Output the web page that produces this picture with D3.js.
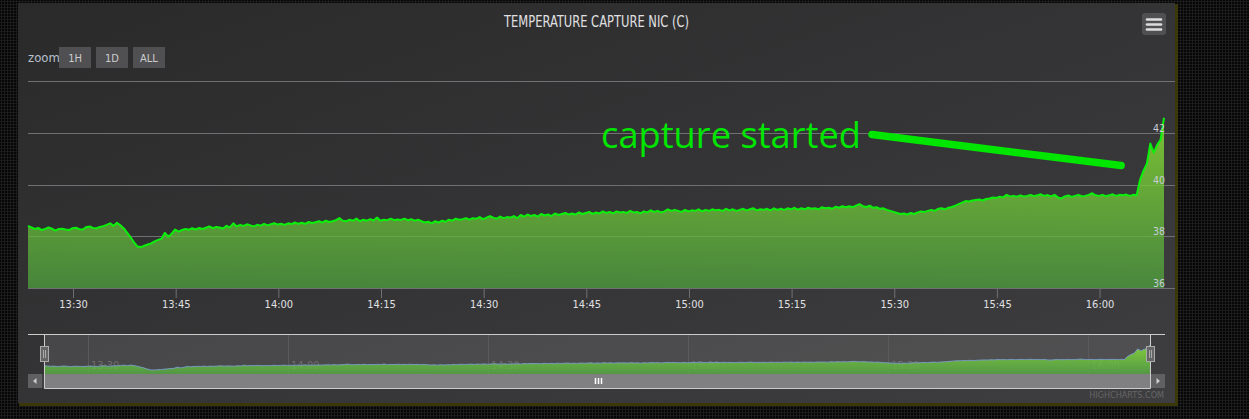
<!DOCTYPE html>
<html lang="en">
<head>
    <meta charset="UTF-8">
    <title>Temperature Capture NIC (C)</title>
    <script src="https://d3js.org/d3.v7.min.js"></script>
    <style>
        body {
            margin: 0;
            overflow: hidden;
            background-color: #060606;
            background-image: radial-gradient(circle, #1f1f1f 0.9px, transparent 1.3px);
            background-size: 3px 3px;
        }
        svg { display: block; }
    </style>
</head>
<body>
    <svg width="1249" height="419"></svg>
    <script>
        // one reading every 30 s, the first at 13:23:25
        const startTime = "13:23:25";
        const stepMinutes = 0.5;
        const temps = [
            38.42, 38.36, 38.30, 38.34, 38.26, 38.30, 38.36, 38.31, 38.24, 38.30,
            38.31, 38.28, 38.26, 38.33, 38.35, 38.29, 38.28, 38.37, 38.40, 38.34,
            38.33, 38.38, 38.41, 38.46, 38.52, 38.42, 38.54, 38.44, 38.32, 38.15,
            37.98, 37.78, 37.62, 37.60, 37.65, 37.70, 37.74, 37.82, 37.88, 37.92,
            38.15, 38.00, 38.12, 38.28, 38.20, 38.26, 38.30, 38.27, 38.33, 38.28,
            38.34, 38.30, 38.35, 38.40, 38.33, 38.38, 38.36, 38.32, 38.42, 38.36,
            38.52, 38.40, 38.46, 38.42, 38.48, 38.44, 38.40, 38.46, 38.43, 38.50,
            38.44, 38.48, 38.52, 38.47, 38.50, 38.46, 38.52, 38.49, 38.55, 38.50,
            38.54, 38.50, 38.57, 38.53, 38.56, 38.60, 38.55, 38.62, 38.57, 38.60,
            38.64, 38.72, 38.62, 38.60, 38.66, 38.62, 38.70, 38.60, 38.66, 38.62,
            38.68, 38.63, 38.74, 38.62, 38.66, 38.64, 38.70, 38.64, 38.67, 38.65,
            38.70, 38.64, 38.68, 38.62, 38.66, 38.60, 38.55, 38.58, 38.52, 38.60,
            38.55, 38.62, 38.58, 38.66, 38.62, 38.70, 38.66, 38.68, 38.72, 38.66,
            38.72, 38.70, 38.76, 38.68, 38.74, 38.80, 38.74, 38.70, 38.78, 38.72,
            38.76, 38.74, 38.80, 38.72, 38.84, 38.78, 38.86, 38.80, 38.84, 38.78,
            38.88, 38.82, 38.86, 38.80, 38.90, 38.84, 38.88, 38.92, 38.86, 38.90,
            38.86, 38.94, 38.88, 38.92, 38.96, 38.88, 38.94, 38.90, 38.98, 38.92,
            38.96, 38.90, 38.98, 38.94, 38.96, 38.92, 39.00, 38.94, 38.96, 38.90,
            38.98, 38.94, 39.02, 38.96, 39.00, 38.94, 38.98, 39.06, 39.00, 39.04,
            39.00, 38.96, 39.04, 38.98, 39.02, 39.00, 39.06, 38.98, 39.04, 39.00,
            39.06, 39.02, 39.04, 39.00, 39.08, 39.02, 39.06, 39.00, 39.04, 39.08,
            39.02, 39.06, 39.10, 39.02, 39.06, 39.04, 39.08, 39.02, 39.10, 39.04,
            39.08, 39.04, 39.10, 39.06, 39.12, 39.05, 39.10, 39.06, 39.12, 39.08,
            39.10, 39.06, 39.14, 39.10, 39.12, 39.08, 39.16, 39.12, 39.18, 39.14,
            39.18, 39.14, 39.20, 39.26, 39.18, 39.15, 39.20, 39.12, 39.14, 39.08,
            39.10, 39.04, 39.00, 38.96, 38.92, 38.88, 38.90, 38.86, 38.92, 38.88,
            38.94, 38.98, 38.96, 39.00, 39.04, 39.00, 39.08, 39.10, 39.06, 39.12,
            39.15, 39.20, 39.26, 39.32, 39.38, 39.36, 39.40, 39.42, 39.44, 39.40,
            39.46, 39.48, 39.52, 39.50, 39.55, 39.52, 39.62, 39.56, 39.58, 39.55,
            39.60, 39.56, 39.58, 39.62, 39.57, 39.60, 39.64, 39.58, 39.61, 39.56,
            39.62, 39.52, 39.48, 39.56, 39.60, 39.54, 39.58, 39.62, 39.56, 39.58,
            39.62, 39.68, 39.60, 39.58, 39.62, 39.57, 39.60, 39.64, 39.58, 39.62,
            39.60, 39.63, 39.58, 39.62, 39.60, 40.20, 40.55, 40.82, 41.60, 41.25,
            41.55, 41.75, 42.60
        ];

        const yTicks = [36, 38, 40, 42, 44];
        const yLabels = [36, 38, 40, 42];     // top tick has no label
        const navYDomain = [36.84, 44.45];

        const chartTitle = "TEMPERATURE CAPTURE NIC (C)";
        const zoomLabel = "zoom";
        const zoomButtons = ["1H", "1D", "ALL"];
        const credits = "HIGHCHARTS.COM";

        // hand-drawn note, placed in data units
        const noteText = "capture started";
        const noteAt = {time: "14:47:09", value: 41.43};
        const noteStroke = [{time: "15:26:45", value: 41.95}, {time: "16:03:09", value: 40.75}];

        const parseTime = d3.timeParse("%H:%M:%S");
        const t0 = parseTime(startTime);
        const data = temps.map((v, i) => ({t: d3.timeSecond.offset(t0, i * stepMinutes * 60), v: v}));

        const svg = d3.select("svg");
        const font = "'DejaVu Sans Condensed', 'Liberation Sans Narrow', 'DejaVu Sans', sans-serif";

        const panel = {x: 18, y: 3, w: 1157, h: 400};
        const plot = {left: 28, right: 1175, dataRight: 1164, top: 81.5, bottom: 288.5};
        const nav = {left: 44, right: 1151, outerLeft: 28, outerRight: 1165, top: 334, bottom: 374, sbBottom: 388};

        const defs = svg.append("defs");
        const bg = defs.append("linearGradient").attr("id", "panelBg")
            .attr("x1", 0).attr("y1", 0).attr("x2", 1).attr("y2", 1);
        bg.append("stop").attr("offset", 0).attr("stop-color", "#2a2a2b");
        bg.append("stop").attr("offset", 1).attr("stop-color", "#3e3e40");

        const areaGrad = defs.append("linearGradient").attr("id", "areaFill")
            .attr("gradientUnits", "userSpaceOnUse")
            .attr("x1", 0).attr("x2", 0).attr("y1", plot.top).attr("y2", plot.bottom);
        areaGrad.append("stop").attr("offset", 0).attr("stop-color", "#a0ff30");
        areaGrad.append("stop").attr("offset", 1).attr("stop-color", "#4ea03e");

        const navGrad = defs.append("linearGradient").attr("id", "navFill")
            .attr("gradientUnits", "userSpaceOnUse")
            .attr("x1", 0).attr("x2", 0).attr("y1", nav.top).attr("y2", nav.bottom);
        navGrad.append("stop").attr("offset", 0).attr("stop-color", "#a0ff30");
        navGrad.append("stop").attr("offset", 1).attr("stop-color", "#55a845");

        // panel with its olive edge
        svg.append("rect")
            .attr("x", panel.x + 1).attr("y", panel.y + 1)
            .attr("width", panel.w + 2).attr("height", panel.h + 2)
            .attr("fill", "#3a3808");
        svg.append("rect")
            .attr("x", panel.x).attr("y", panel.y)
            .attr("width", panel.w).attr("height", panel.h)
            .attr("fill", "url(#panelBg)");

        // title
        svg.append("text")
            .attr("x", panel.x + panel.w / 2).attr("y", 27)
            .attr("text-anchor", "middle")
            .attr("font-family", font).attr("font-size", 16)
            .attr("textLength", 185).attr("lengthAdjust", "spacingAndGlyphs")
            .attr("fill", "#E0E0E3")
            .text(chartTitle);

        // context menu button
        const menu = svg.append("g").attr("transform", "translate(1142,13)");
        menu.append("rect").attr("width", 24).attr("height", 22).attr("rx", 3).attr("fill", "#505053");
        [6.5, 11.5, 16.5].forEach(function(yy) {
            menu.append("line")
                .attr("x1", 5).attr("x2", 19).attr("y1", yy).attr("y2", yy)
                .attr("stroke", "#DDDDDD").attr("stroke-width", 2.6).attr("stroke-linecap", "round");
        });

        // range selector
        svg.append("text")
            .attr("x", 28).attr("y", 62)
            .attr("font-family", font).attr("font-size", 13)
            .attr("fill", "#b8c0cc")
            .text(zoomLabel);
        const btn = svg.selectAll(".zbtn").data(zoomButtons).enter().append("g")
            .attr("class", "zbtn")
            .attr("transform", (d, i) => `translate(${59 + i * 37},47)`);
        btn.append("rect").attr("width", 32).attr("height", 21).attr("fill", "#505053");
        btn.append("text")
            .attr("x", 16).attr("y", 15)
            .attr("text-anchor", "middle")
            .attr("font-family", font).attr("font-size", 11)
            .attr("fill", "#CCCCCC")
            .text(d => d);

        // scales
        const x = d3.scaleTime().domain(d3.extent(data, d => d.t)).range([plot.left, plot.dataRight]);
        const y = d3.scaleLinear().domain([yTicks[0], yTicks[yTicks.length - 1]]).range([plot.bottom, plot.top]);

        // grid
        svg.append("g").selectAll("line").data(yTicks).enter().append("line")
            .attr("x1", plot.left).attr("x2", plot.right)
            .attr("y1", d => Math.floor(y(d)) + 0.5).attr("y2", d => Math.floor(y(d)) + 0.5)
            .attr("stroke", "#707073");

        // series
        const area = d3.area().x(d => x(d.t)).y0(plot.bottom).y1(d => y(d.v));
        const line = d3.line().x(d => x(d.t)).y(d => y(d.v));
        svg.append("path").datum(data)
            .attr("d", area)
            .attr("fill", "url(#areaFill)").attr("fill-opacity", 0.75);
        svg.append("path").datum(data)
            .attr("d", line)
            .attr("fill", "none").attr("stroke", "#0bf00b").attr("stroke-width", 2)
            .attr("stroke-linejoin", "round");

        // y labels, inside on the right
        svg.append("g").selectAll("text").data(yLabels).enter().append("text")
            .attr("x", 1165).attr("y", d => y(d) - 1.5)
            .attr("text-anchor", "end")
            .attr("font-family", font).attr("font-size", 10.5)
            .attr("fill", "#c8ccd6")
            .text(d => d);

        // x axis
        svg.append("line")
            .attr("x1", plot.left).attr("x2", plot.right)
            .attr("y1", Math.floor(plot.bottom) + 0.5).attr("y2", Math.floor(plot.bottom) + 0.5)
            .attr("stroke", "#707073");
        const xAxis = svg.append("g")
            .attr("transform", `translate(0,${Math.floor(plot.bottom)})`)
            .call(d3.axisBottom(x)
                .ticks(d3.timeMinute.every(15))
                .tickFormat(d3.timeFormat("%H:%M"))
                .tickSize(10).tickPadding(2));
        xAxis.select(".domain").remove();
        xAxis.selectAll(".tick line").attr("stroke", "#707073");
        xAxis.selectAll(".tick text")
            .attr("font-family", font).attr("font-size", 11)
            .attr("fill", "#E0E0E3");

        // annotation
        svg.append("text")
            .attr("x", x(parseTime(noteAt.time))).attr("y", y(noteAt.value))
            .attr("font-family", "'Open Sans', 'DejaVu Sans', sans-serif").attr("font-size", 36)
            .attr("textLength", 260).attr("lengthAdjust", "spacingAndGlyphs")
            .attr("fill", "#00e600")
            .text(noteText);
        svg.append("path")
            .datum(noteStroke)
            .attr("d", d3.line().x(d => x(parseTime(d.time))).y(d => y(d.value)))
            .attr("stroke", "#00e600").attr("stroke-width", 7.5).attr("stroke-linecap", "round");

        // navigator
        const navX = d3.scaleTime().domain(x.domain()).range([nav.left, nav.right]);
        const navY = d3.scaleLinear().domain(navYDomain).range([nav.bottom, nav.top]);

        svg.append("rect")
            .attr("x", nav.left).attr("y", nav.top)
            .attr("width", nav.right - nav.left).attr("height", nav.bottom - nav.top)
            .attr("fill", "rgba(255,255,255,0.1)");

        const navTicks = navX.ticks(d3.timeMinute.every(30));
        svg.append("g").selectAll("line").data(navTicks).enter().append("line")
            .attr("x1", d => Math.round(navX(d)) + 0.5).attr("x2", d => Math.round(navX(d)) + 0.5)
            .attr("y1", nav.top).attr("y2", nav.bottom)
            .attr("stroke", "#5a5a5d");
        svg.append("g").selectAll("text").data(navTicks).enter().append("text")
            .attr("x", d => navX(d) + 3).attr("y", 369)
            .attr("font-family", font).attr("font-size", 11)
            .attr("fill", "#6e6e6e")
            .text(d3.timeFormat("%H:%M"));

        svg.append("path").datum(data)
            .attr("d", d3.area().x(d => navX(d.t)).y0(nav.bottom).y1(d => navY(d.v)))
            .attr("fill", "url(#navFill)").attr("fill-opacity", 0.82);
        svg.append("path").datum(data)
            .attr("d", d3.line().x(d => navX(d.t)).y(d => navY(d.v)))
            .attr("fill", "none").attr("stroke", "#7798BF").attr("stroke-width", 1);

        // scrollbar
        const sbH = nav.sbBottom - nav.bottom;
        svg.append("rect")
            .attr("x", nav.outerLeft).attr("y", nav.bottom)
            .attr("width", nav.outerRight - nav.outerLeft).attr("height", sbH)
            .attr("fill", "#404043");
        svg.append("rect")
            .attr("x", nav.left).attr("y", nav.bottom)
            .attr("width", nav.right - nav.left).attr("height", sbH)
            .attr("fill", "#808083");
        [nav.outerLeft, nav.right].forEach(function(bx, i) {
            svg.append("rect")
                .attr("x", bx).attr("y", nav.bottom)
                .attr("width", 14).attr("height", sbH)
                .attr("fill", "#606063");
            const cx = bx + 7, cy = nav.bottom + sbH / 2;
            const pts = i === 0
                ? [[cx - 2, cy], [cx + 1.5, cy - 3], [cx + 1.5, cy + 3]]
                : [[cx + 2, cy], [cx - 1.5, cy - 3], [cx - 1.5, cy + 3]];
            svg.append("path")
                .attr("d", "M" + pts.join("L") + "Z")
                .attr("fill", "#CCCCCC");
        });
        const mid = Math.round((nav.left + nav.right) / 2);
        [-3, 0, 3].forEach(function(dx) {
            svg.append("line")
                .attr("x1", mid + dx + 0.5).attr("x2", mid + dx + 0.5)
                .attr("y1", nav.bottom + 4).attr("y2", nav.bottom + 10)
                .attr("stroke", "#FFFFFF").attr("stroke-width", 1.5);
        });

        // navigator outline and handles
        svg.append("path")
            .attr("d", `M${nav.outerLeft},${nav.top + 0.5}H${nav.outerRight}` +
                `M${nav.left + 0.5},${nav.top + 0.5}V${nav.sbBottom + 0.5}H${nav.right - 0.5}V${nav.top + 0.5}`)
            .attr("fill", "none").attr("stroke", "#CCCCCC");
        [nav.left, nav.right - 1].forEach(function(hx) {
            const h = svg.append("g").attr("transform", `translate(${hx - 4},346)`);
            h.append("rect").attr("x", 0.5).attr("y", 0.5).attr("width", 8).attr("height", 15)
                .attr("fill", "#666666").attr("stroke", "#AAAAAA");
            [3.5, 5.5].forEach(function(lx) {
                h.append("line").attr("x1", lx).attr("x2", lx).attr("y1", 4).attr("y2", 12)
                    .attr("stroke", "#AAAAAA");
            });
        });

        // credits
        svg.append("text")
            .attr("x", 1164).attr("y", 398)
            .attr("text-anchor", "end")
            .attr("font-family", font).attr("font-size", 9)
            .attr("fill", "#666666")
            .text(credits);
    </script>
</body>
</html>
